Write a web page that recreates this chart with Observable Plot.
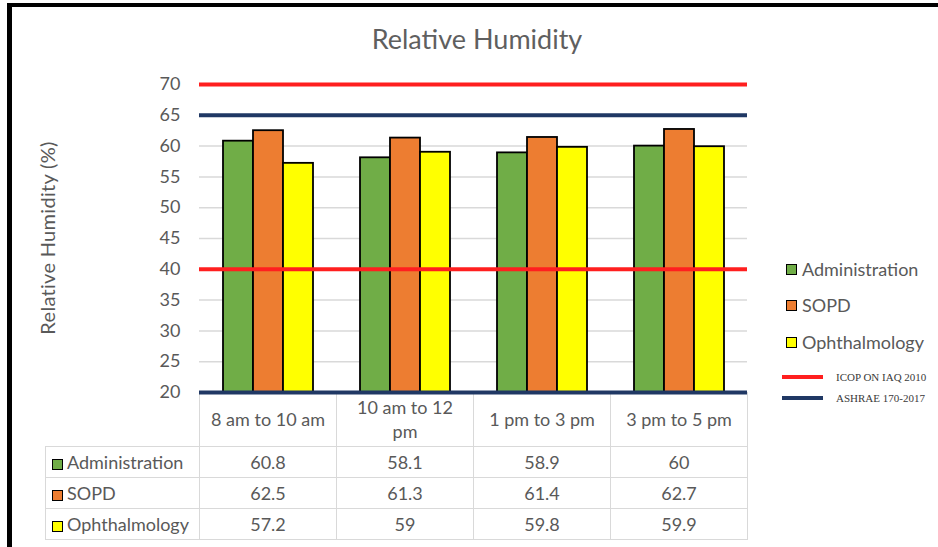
<!DOCTYPE html>
<html>
<head>
<meta charset="utf-8">
<script src="https://cdn.jsdelivr.net/npm/d3@7"></script>
<script src="https://cdn.jsdelivr.net/npm/@observablehq/plot@0.6"></script>
<style>
  html, body { margin: 0; padding: 0; background: #fff; }
  #wrap { position: relative; width: 938px; height: 547px; overflow: hidden; background: #fff; font-family: Lato, "Open Sans", sans-serif; color: #595959; }
  #frame { position: absolute; left: 7px; top: 3px; width: 960px; height: 600px; border-top: 4px solid #000; border-left: 5px solid #000; box-sizing: border-box; }
  #title { position: absolute; left: 0; width: 954px; top: 25px; text-align: center; font-size: 27px; line-height: 27px; color: #5f5f5f; }
  #ylab { position: absolute; left: 47px; top: 238px; transform: translate(-50%, -50%) rotate(-90deg); white-space: nowrap; font-size: 20px; letter-spacing: 0.3px; color: #595959; }
  #plot { position: absolute; left: 0; top: 0; }
  .leg { position: absolute; left: 786px; display: flex; align-items: center; font-size: 18px; height: 24px; color: #595959; }
  .sw { width: 9px; height: 9px; border: 1.5px solid #000; margin-right: 5px; flex: none; }
  .lleg { position: absolute; left: 782px; display: flex; align-items: center; height: 14px; font-family: "Liberation Serif", "DejaVu Serif", serif; font-size: 11px; color: #3a3a3a; }
  .ln { width: 41px; height: 4px; margin-right: 13px; flex: none; }
  table.dt { position: absolute; border-collapse: collapse; table-layout: fixed; font-size: 18px; color: #595959; }
  table.dt td { border: 1.5px solid #d9d9d9; text-align: center; vertical-align: middle; padding: 0 11px; box-sizing: border-box; line-height: 24px; }
  table.dt td.rh { text-align: left; padding: 0 2px 0 6px; white-space: nowrap; }
  table.dt td.rh .sw { display: inline-block; vertical-align: -1px; margin-right: 4px; }
</style>
</head>
<body>
<div id="wrap">
  <div id="frame"></div>
  <div id="title"></div>
  <div id="ylab"></div>
  <div id="plot"></div>
</div>
<script>
// ---- data ----
const chartTitle = "Relative Humidity";
const yLabel = "Relative Humidity (%)";
const categories = ["8 am to 10 am", "10 am to 12 pm", "1 pm to 3 pm", "3 pm to 5 pm"];
const seriesNames = ["Administration", "SOPD", "Ophthalmology"];
const administration = [60.8, 58.1, 58.9, 60];
const sopd = [62.5, 61.3, 61.4, 62.7];
const ophthalmology = [57.2, 59, 59.8, 59.9];
const seriesColors = ["#70AD47", "#ED7D31", "#FFFF00"];
const yTicks = [20, 25, 30, 35, 40, 45, 50, 55, 60, 65, 70];
const guideNames = ["ICOP ON IAQ 2010", "ASHRAE 170-2017"];
const guideColors = ["#FF1F1F", "#203864"];
const icopLimits = [40, 70];
const ashraeLimits = [20, 65];

// ---- build ----
const seriesValues = [administration, sopd, ophthalmology];
const rows = categories.flatMap((c, i) => seriesNames.map((s, j) => ({time: c, series: s, value: seriesValues[j][i]})));

const W = 938, H = 547;
const chart = Plot.plot({
  width: W, height: H,
  marginTop: 84, marginBottom: 155, marginLeft: 197, marginRight: 190,
  style: {fontFamily: "Lato, 'Open Sans', sans-serif", fontSize: "18px", color: "#595959", background: "transparent", overflow: "visible"},
  fx: {domain: categories, padding: 0, axis: null},
  x: {domain: seriesNames, paddingInner: 0, paddingOuter: 0.75, axis: null},
  y: {domain: [yTicks[0], yTicks[yTicks.length - 1]]},
  color: {domain: seriesNames, range: seriesColors},
  marks: [
    Plot.gridY(yTicks, {stroke: "#d9d9d9", strokeOpacity: 1, strokeWidth: 1.5}),
    Plot.axisY(yTicks, {tickSize: 0, tickPadding: 19, fill: "#595959", fontSize: 18, label: null}),
    Plot.barY(rows, {fx: "time", x: "series", y1: yTicks[0], y2: "value", fill: "series", stroke: "#000", strokeWidth: 1.8}),
    Plot.ruleY(icopLimits, {stroke: guideColors[0], strokeWidth: 4}),
    Plot.ruleY(ashraeLimits, {stroke: guideColors[1], strokeWidth: 4})
  ]
});
const plotDiv = document.getElementById("plot");
plotDiv.appendChild(chart);
plotDiv.style.zIndex = 2;
document.getElementById("title").textContent = chartTitle;
document.getElementById("ylab").textContent = yLabel;

const wrap = document.getElementById("wrap");
const fxs = chart.scale("fx");
const ys = chart.scale("y");
const bw = fxs.bandwidth;
const axisY = ys.apply(yTicks[0]);

// legend
const legTops = [269, 305, 342];
seriesNames.forEach((s, j) => {
  const d = document.createElement("div");
  d.className = "leg";
  d.style.top = (legTops[j] - 12) + "px";
  d.innerHTML = `<span class="sw" style="background:${seriesColors[j]}"></span><span>${s}</span>`;
  wrap.appendChild(d);
});
const lineTops = [377, 398];
guideNames.forEach((g, j) => {
  const d = document.createElement("div");
  d.className = "lleg";
  d.style.top = (lineTops[j] - 7) + "px";
  d.innerHTML = `<span class="ln" style="background:${guideColors[j]}"></span><span>${g}</span>`;
  wrap.appendChild(d);
});

// data table
const firstColLeft = 45;
const left0 = fxs.apply(categories[0]);
const tbl = document.createElement("table");
tbl.className = "dt";
tbl.style.left = firstColLeft + "px";
tbl.style.top = axisY + "px";
let html = `<colgroup><col style="width:${left0 - firstColLeft}px">` + categories.map(() => `<col style="width:${bw}px">`).join("") + `</colgroup>`;
html += `<tr style="height:54px"><td style="border-top:none;border-left:none"></td>` + categories.map(c => `<td style="border-top:none">${c}</td>`).join("") + `</tr>`;
seriesNames.forEach((s, j) => {
  html += `<tr style="height:31px"><td class="rh"><span class="sw" style="background:${seriesColors[j]}"></span>${s}</td>` +
    seriesValues[j].map(v => `<td>${v}</td>`).join("") + `</tr>`;
});
tbl.innerHTML = html;
tbl.style.width = (left0 - firstColLeft + bw * categories.length) + "px";
wrap.appendChild(tbl);
</script>
</body>
</html>
